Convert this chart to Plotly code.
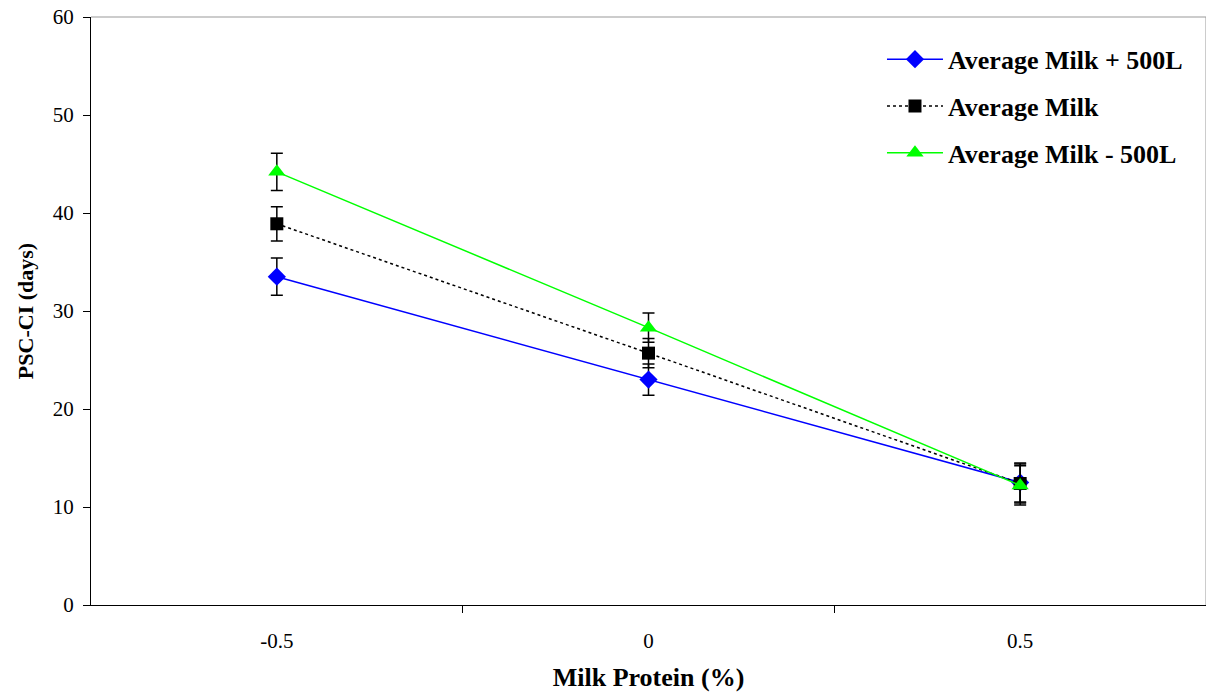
import plotly.graph_objects as go

x_vals = [-0.5, 0, 0.5]
x_labels = ["-0.5", "0", "0.5"]
y_ticks = [0, 10, 20, 30, 40, 50, 60]
plus500 = [33.5, 23.0, 12.5]
plus500_err = [1.9, 1.6, 2.0]
avg = [38.9, 25.7, 12.4]
avg_err = [1.75, 1.5, 2.0]
minus500 = [44.2, 28.3, 12.2]
minus500_err = [1.9, 1.5, 2.0]
series_names = ["Average Milk + 500L", "Average Milk", "Average Milk - 500L"]

font_family = "Liberation Serif, Times New Roman, serif"

fig = go.Figure()

def err(vals):
    return dict(type="data", array=vals, visible=True, color="black", thickness=1.5, width=6)

fig.add_trace(go.Scatter(
    x=x_vals, y=plus500, name=series_names[0], mode="lines+markers", legendgroup="a",
    line=dict(color="#0000FF", width=1.5),
    marker=dict(symbol="diamond", size=14, color="#0000FF"),
    error_y=err(plus500_err)))
fig.add_trace(go.Scatter(
    x=x_vals, y=avg, name=series_names[1], mode="lines+markers", legendgroup="b",
    line=dict(color="black", width=1.5, dash="dot"),
    marker=dict(symbol="square", size=13, color="black"),
    error_y=err(avg_err)))
fig.add_trace(go.Scatter(
    x=x_vals, y=minus500, name=series_names[2], mode="lines+markers", legendgroup="c",
    line=dict(color="#00FF00", width=1.5),
    marker=dict(symbol="triangle-up", size=15, color="#00FF00"),
    error_y=err(minus500_err)))

fig.update_layout(
    width=1206, height=692,
    margin=dict(l=91, r=0, t=17, b=87),
    paper_bgcolor="white", plot_bgcolor="white",
    font=dict(family=font_family, color="black", size=21),
    showlegend=True,
    legend=dict(x=0.7094, y=0.968, xanchor="left", yanchor="top",
                font=dict(family=font_family, size=26, color="black", weight="bold"),
                bgcolor="rgba(0,0,0,0)", tracegroupgap=10, itemwidth=56,
                traceorder="grouped"),
    xaxis=dict(range=[-0.75, 0.75], tickvals=x_vals, ticktext=x_labels,
               ticks="outside", ticklen=17, tickcolor="rgba(0,0,0,0)",
               showgrid=False, zeroline=False, automargin=False,
               showline=True, linecolor="black", linewidth=1.3,
               minor=dict(tickvals=[-0.25, 0.25], ticks="outside", ticklen=7,
                          tickcolor="black", tickwidth=1, showgrid=False),
               tickfont=dict(size=21),
               title=dict(text="<b>Milk Protein (%)</b>", font=dict(size=26), standoff=19)),
    yaxis=dict(range=[0, 60], tickvals=y_ticks,
               ticks="outside", ticklen=7, tickcolor="black",
               ticklabelstandoff=5, automargin=False,
               showgrid=False, zeroline=False,
               showline=True, linecolor="black", linewidth=1.3,
               tickfont=dict(size=21),
               title=dict(text="<b>PSC-CI (days)</b>", font=dict(size=22), standoff=12)),
    shapes=[dict(type="line", xref="paper", yref="paper", x0=0, x1=1, y0=1, y1=1,
                 line=dict(color="#999999", width=1)),
            dict(type="line", xref="paper", yref="paper", x0=1, x1=1, y0=0, y1=1,
                 line=dict(color="#999999", width=1))],
)

# remove the default 8px page margin so the 1206x692 figure fills the window
fig.write_html("out.html", config={"displayModeBar": False},
               post_script="document.body.style.margin='0';")
